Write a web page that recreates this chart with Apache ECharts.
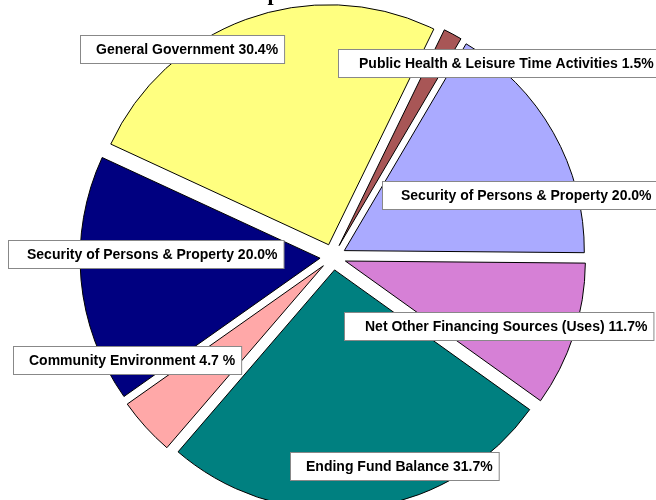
<!DOCTYPE html>
<html>
<head>
<meta charset="utf-8">
<script src="https://cdn.jsdelivr.net/npm/echarts@6/dist/echarts.min.js"></script>
<style>
  html, body { margin: 0; padding: 0; background: #fff; }
  #main { width: 656px; height: 500px; }
</style>
</head>
<body>
<div id="main"></div>
<script>
// slices, clockwise from the thin red one
var names = ['Public Health & Leisure Time Activities', 'Security of Persons & Property',
  'Net Other Financing Sources (Uses)', 'Ending Fund Balance', 'Community Environment',
  'Security of Persons & Property', 'General Government'];
var values = [1.5, 20.0, 11.7, 31.7, 4.7, 20.0, 30.4];
var pctSuffix = ['%', '%', '%', '%', ' %', '%', '%'];
var colors = ['#a85656', '#aaaaff', '#d680d6', '#008080', '#ffa8a8', '#000080', '#ffff80'];

// label box top-left corners + left padding (pie labelLayout x/y gets overridden in v6, so boxes go in graphic)
var labelPos = [[338, 49], [382, 181], [344, 312], [290, 452], [13, 346], [8, 240], [80, 35]];
var labelPadLeft = [20, 18, 20, 15, 15, 18, 15];

var chart = echarts.init(document.getElementById('main'));

var pieData = names.map(function (n, i) {
  return {
    name: n,
    value: values[i],
    selected: true,
    itemStyle: { color: colors[i] }
  };
});

var labelBoxes = names.map(function (n, i) {
  return {
    type: 'text',
    left: labelPos[i][0],
    top: labelPos[i][1],
    z: 100,
    style: {
      text: n + ' ' + values[i].toFixed(1) + pctSuffix[i],
      font: 'bold 14px "Liberation Sans", Arial, sans-serif',
      lineHeight: 16,
      fill: '#000',
      backgroundColor: '#fff',
      borderColor: '#888',
      borderWidth: 1,
      padding: [6, 6, 5, labelPadLeft[i]]
    }
  };
});

chart.setOption({
  animation: false,
  // title sits mostly above the page, only a descender shows
  title: {
    text: 'General Fund Expenditures',
    left: 100,
    top: -22,
    textStyle: { fontFamily: 'Liberation Serif', fontWeight: 'bold', fontSize: 22, color: '#000' }
  },
  graphic: labelBoxes,
  series: [{
    type: 'pie',
    center: [333, 257],
    radius: [0, 240],
    startAngle: 64,
    clockwise: true,
    selectedMode: 'multiple',
    selectedOffset: 13,
    emphasis: { disabled: true },
    itemStyle: { borderColor: '#000', borderWidth: 1 },
    label: { show: false },
    labelLine: { show: false },
    data: pieData
  }]
});
</script>
</body>
</html>
